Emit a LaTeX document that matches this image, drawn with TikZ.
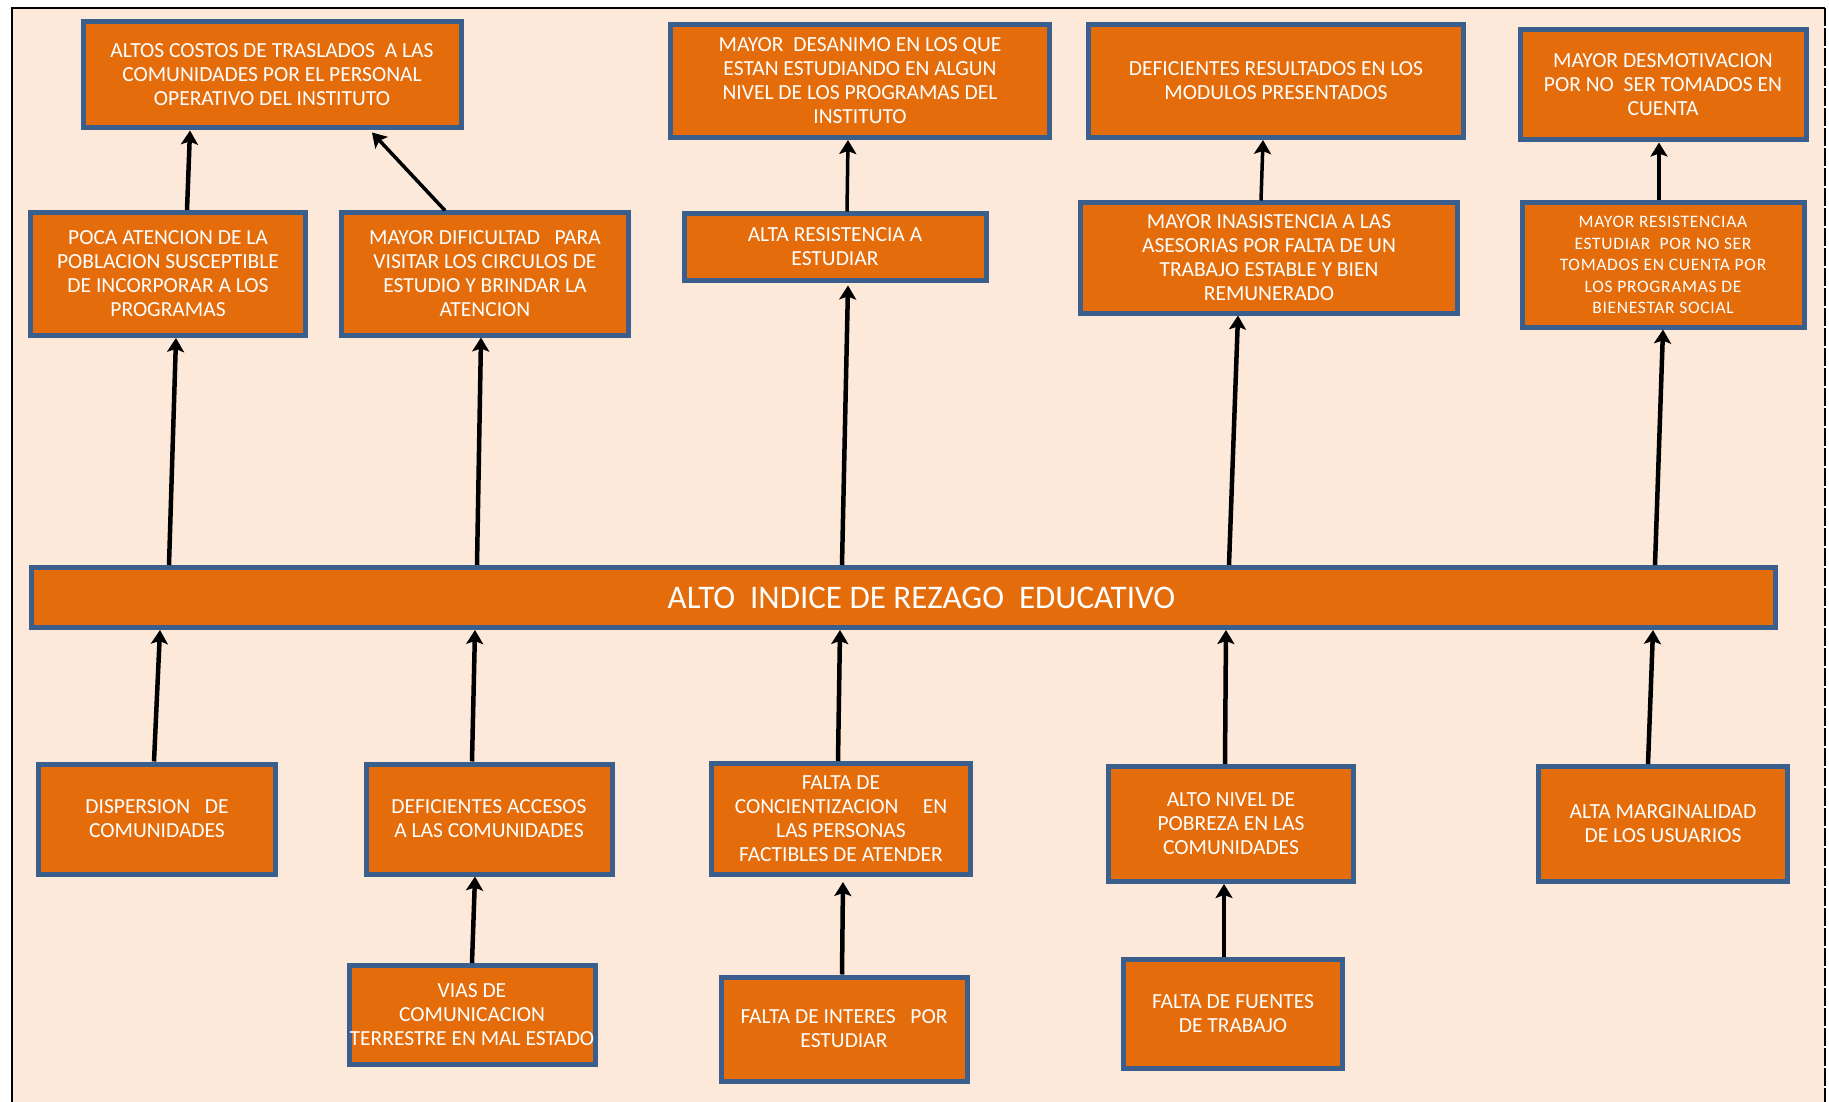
\documentclass[tikz,border=0pt]{standalone}
\usepackage{fontspec}
\setmainfont{Carlito}
\usetikzlibrary{arrows.meta,calc}
\definecolor{bgpeach}{HTML}{FDE9D9}
\definecolor{boxorange}{HTML}{E46C0A}
\definecolor{boxblue}{HTML}{3A5F8D}
\tikzset{
  cbox/.style={draw=boxblue, line width=5pt, fill=boxorange, text=white,
    align=center, font=\fontsize{21.5}{24}\selectfont, inner sep=0pt},
  arr/.style={-{Stealth[length=14pt,width=17pt,inset=3pt]}, line width=4.5pt, draw=black},
  thinarr/.style={arr, line width=3.5pt},
}
\begin{document}
\begin{tikzpicture}[x=1pt,y=-1pt]
\useasboundingbox (0,0) rectangle (1829,1102);
\fill[white] (0,0) rectangle (1829,1102);
\fill[bgpeach] (12,8) rectangle (1825,1102);
\draw[line width=2.5pt] (12,1102) -- (12,8) -- (1825,8);
\draw[line width=2pt, dash pattern=on 18pt off 2pt] (1825,8) -- (1825,1102);

% top row
\node[cbox, minimum width=378pt, minimum height=106pt] (altos) at (272,75)
  {ALTOS COSTOS DE TRASLADOS\ \ A LAS\\COMUNIDADES POR EL PERSONAL\\OPERATIVO DEL INSTITUTO};
\node[cbox, minimum width=379pt, minimum height=113pt] (desanimo) at (860,81)
  {MAYOR\ \ DESANIMO EN LOS QUE\\ESTAN ESTUDIANDO EN ALGUN\\NIVEL DE LOS PROGRAMAS DEL\\INSTITUTO};
\node[cbox, minimum width=375pt, minimum height=113pt] (defres) at (1276,81)
  {DEFICIENTES RESULTADOS EN LOS\\MODULOS PRESENTADOS};
\node[cbox, minimum width=286pt, minimum height=110pt] (desmot) at (1663,85)
  {MAYOR DESMOTIVACION\\POR NO\ \ SER TOMADOS EN\\CUENTA};

% second row
\node[cbox, minimum width=275pt, minimum height=123pt] (poca) at (168,274)
  {POCA ATENCION DE LA\\POBLACION SUSCEPTIBLE\\DE INCORPORAR A LOS\\PROGRAMAS};
\node[cbox, minimum width=287pt, minimum height=122pt] (dif) at (485,274)
  {MAYOR DIFICULTAD\ \ \ PARA\\VISITAR LOS CIRCULOS DE\\ESTUDIO Y BRINDAR LA\\ATENCION};
\node[cbox, minimum width=302pt, minimum height=66pt] (altares) at (835,247)
  {ALTA RESISTENCIA A\\ESTUDIAR};
\node[cbox, minimum width=377pt, minimum height=110pt] (inas) at (1269,258)
  {MAYOR INASISTENCIA A LAS\\ASESORIAS POR FALTA DE UN\\TRABAJO ESTABLE Y BIEN\\REMUNERADO};
\node[cbox, minimum width=282pt, minimum height=124pt,
  font=\fontsize{17.5}{21.5}\selectfont\addfontfeature{LetterSpace=4}] (resis) at (1663,265)
  {MAYOR RESISTENCIAA\\ESTUDIAR\ \ POR NO SER\\TOMADOS EN CUENTA POR\\LOS PROGRAMAS DE\\BIENESTAR SOCIAL};

% central bar
\node[cbox, minimum width=1744pt, minimum height=60pt, font=\fontsize{33}{36}\selectfont] (bar) at (903.5,597.5)
  {\hspace*{36pt}ALTO\ \ INDICE DE REZAGO\ \ EDUCATIVO};

% bottom row
\node[cbox, minimum width=237pt, minimum height=110pt] (disp) at (157,819)
  {DISPERSION\ \ \ DE\\COMUNIDADES};
\node[cbox, minimum width=246pt, minimum height=110pt] (defacc) at (489,819)
  {DEFICIENTES ACCESOS\\A LAS COMUNIDADES};
\node[cbox, minimum width=259pt, minimum height=111pt] (conc) at (841,819)
  {FALTA DE\\CONCIENTIZACION\ \ \ \ \ EN\\LAS PERSONAS\\FACTIBLES DE ATENDER};
\node[cbox, minimum width=245pt, minimum height=115pt] (pob) at (1231,824)
  {ALTO NIVEL DE\\POBREZA EN LAS\\COMUNIDADES};
\node[cbox, minimum width=249pt, minimum height=115pt] (marg) at (1663,824)
  {ALTA MARGINALIDAD\\DE LOS USUARIOS};

% third row
\node[cbox, minimum width=246pt, minimum height=99pt] (vias) at (472,1015)
  {VIAS DE\\COMUNICACION\\TERRESTRE EN MAL ESTADO};
\node[cbox, minimum width=246pt, minimum height=104pt] (inter) at (844,1029)
  {FALTA DE INTERES\ \ \ POR\\ESTUDIAR};
\node[cbox, minimum width=219pt, minimum height=109pt] (fuent) at (1233,1014)
  {FALTA DE FUENTES\\DE TRABAJO};

% arrows: second row -> top row
\draw[arr] ([xshift=19pt]poca.north) -- ([xshift=-82pt]altos.south);
\draw[thinarr] ([xshift=-40pt]dif.north) -- ([xshift=100pt,yshift=-2pt]altos.south);
\draw[thinarr] ([xshift=12pt]altares.north) -- ([xshift=-12pt]desanimo.south);
\draw[thinarr] ([xshift=-8pt]inas.north) -- ([xshift=-13pt]defres.south);
\draw[arr] ([xshift=-4pt]resis.north) -- ([xshift=-4pt]desmot.south);

% arrows: bar -> second row
\draw[arr] ([xshift=-734.5pt]bar.north) -- ([xshift=8pt]poca.south);
\draw[arr] ([xshift=-426.5pt]bar.north) -- ([xshift=-4pt]dif.south);
\draw[arr] ([xshift=-61.5pt]bar.north) -- ([xshift=13pt,yshift=-3pt]altares.south);
\draw[arr] ([xshift=325.5pt]bar.north) -- ([xshift=-31pt]inas.south);
\draw[arr] ([xshift=751.5pt]bar.north) -- ([xshift=0pt]resis.south);

% arrows: bottom row -> bar
\draw[arr] ([xshift=-3pt]disp.north) -- ([xshift=-743.5pt]bar.south);
\draw[arr] ([xshift=-17pt]defacc.north) -- ([xshift=-428.5pt]bar.south);
\draw[arr] ([xshift=-3pt]conc.north) -- ([xshift=-63.5pt]bar.south);
\draw[arr] ([xshift=-6pt]pob.north) -- ([xshift=322.5pt]bar.south);
\draw[arr] ([xshift=-15pt]marg.north) -- ([xshift=749.5pt]bar.south);

% arrows: third row -> bottom row
\draw[arr] ([xshift=0pt]vias.north) -- ([xshift=-14pt]defacc.south);
\draw[arr] ([xshift=-2pt]inter.north) -- ([xshift=2pt,yshift=-5pt]conc.south);
\draw[arr] ([xshift=-9pt]fuent.north) -- ([xshift=-7pt]pob.south);
\end{tikzpicture}
\end{document}
